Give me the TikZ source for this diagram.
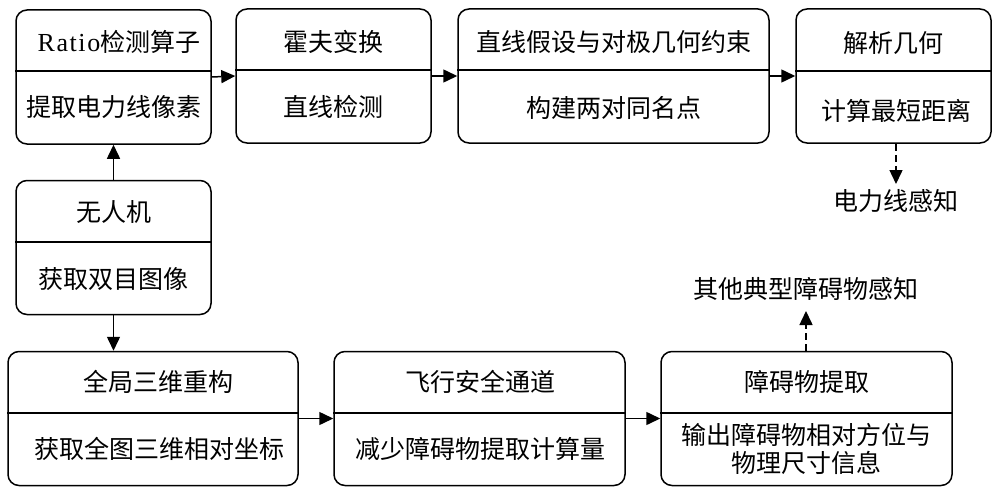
\documentclass[tikz,border=0pt]{standalone}
\usepackage{fontspec}
\newfontfamily\cjk{Noto Sans CJK SC}
\newfontfamily\latinserif[LetterSpace=6]{Liberation Serif}
\usetikzlibrary{arrows.meta}
\begin{document}
\begin{tikzpicture}[x=1pt,y=-1pt,
  box/.style={draw,line width=1.5pt,rounded corners=11pt,minimum width=#1,minimum height=134pt,inner sep=0pt},
  txt/.style={font=\cjk\fontsize{25}{29}\selectfont,inner sep=0pt,align=center},
  arr/.style={line width=1.5pt,-{Triangle[length=14pt,width=13pt]}},
  darr/.style={line width=1.5pt,dash pattern=on 7pt off 4pt,-{Triangle[length=14pt,width=13pt]}},
  div/.style={line width=1.5pt}]
\useasboundingbox (0,0) rectangle (1000,495);
% top row
\node[box=195pt] (b1) at (113.5,77) {};
\node[box=195pt] (b2) at (333.5,76) {};
\node[box=311pt] (b3) at (613.5,76) {};
\node[box=195pt] (b4) at (893.5,76) {};
\draw[div] (b1.west |- 0,71) -- (b1.east |- 0,71);
\draw[div] (b2.west |- 0,70) -- (b2.east |- 0,70);
\draw[div] (b3.west |- 0,70) -- (b3.east |- 0,70);
\draw[div] (b4.west |- 0,71) -- (b4.east |- 0,71);
\node[txt] (t1) at (119,42) {{\latinserif\fontsize{26}{29}\selectfont Ratio}检测算子};
\node[txt] (s1) at (113.5,107) {提取电力线像素};
\node[txt] (t2) at (333.5,42) {霍夫变换};
\node[txt] (s2) at (333.5,107) {直线检测};
\node[txt] (t3) at (613.5,42) {直线假设与对极几何约束};
\node[txt] (s3) at (613.5,108) {构建两对同名点};
\node[txt] (t4) at (893.5,43) {解析几何};
\node[txt] (s4) at (896,111) {计算最短距离};
\node[txt] (o1) at (896,201) {电力线感知};
\coordinate (e1) at (896,184);
% UAV
\node[box=195pt] (b5) at (113.5,247.5) {};
\draw[div] (b5.west |- 0,242) -- (b5.east |- 0,242);
\node[txt] (t5) at (113.5,212) {无人机};
\node[txt] (s5) at (113.5,279) {获取双目图像};
% bottom row
\node[box=290pt] (b6) at (153,418.5) {};
\node[box=291pt] (b7) at (479.5,418.5) {};
\node[box=291pt] (b8) at (806.5,418.5) {};
\draw[div] (b6.west |- 0,413) -- (b6.east |- 0,413);
\draw[div] (b7.west |- 0,413) -- (b7.east |- 0,413);
\draw[div] (b8.west |- 0,413) -- (b8.east |- 0,413);
\node[txt] (t6) at (158,382) {全局三维重构};
\node[txt] (s6) at (159,449) {获取全图三维相对坐标};
\node[txt] (t7) at (480,382) {飞行安全通道};
\node[txt] (s7) at (480,449) {减少障碍物提取计算量};
\node[txt] (t8) at (806.5,382) {障碍物提取};
\node[txt,font=\cjk\fontsize{25}{28}\selectfont] (s8) at (806.5,449) {输出障碍物相对方位与\\物理尺寸信息};
\node[txt] (o2) at (806,289) {其他典型障碍物感知};
\coordinate (e2) at (806,311);
% connectors
\draw[arr] (b1.east) -- (b2.west);
\draw[arr] (b2.east) -- (b3.west);
\draw[arr] (b3.east) -- (b4.west);
\draw[arr] (b5.north) -- (b1.south);
\draw[arr] (b5.south) -- (b5.south |- b6.north);
\draw[arr] (b6.east) -- (b7.west);
\draw[arr] (b7.east) -- (b8.west);
\draw[darr] (e1 |- b4.south) -- (e1);
\draw[darr] (e2 |- b8.north) -- (e2);
\end{tikzpicture}
\end{document}
